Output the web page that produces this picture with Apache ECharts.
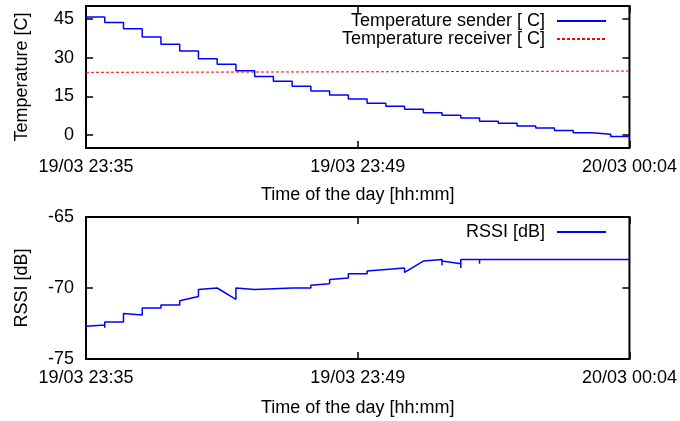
<!DOCTYPE html>
<html><head><meta charset="utf-8">
<script src="https://cdn.jsdelivr.net/npm/echarts@6/dist/echarts.min.js"></script>
<style>html,body{margin:0;padding:0;background:#fff}#c{width:680px;height:421px}</style>
</head><body><div id="c"></div>
<script>
// ---- data ----
const startClock = '23:35';
const endClock = '00:04';
const xTickClocks = ['23:35', '23:49:30', '00:04'];
const xTickLabels = ['19/03 23:35', '19/03 23:49', '20/03 00:04'];

const senderTimes = ['23:35','23:36','23:37','23:38','23:39','23:40','23:41','23:42','23:43','23:44',
  '23:45','23:46','23:47','23:48','23:49','23:50','23:51','23:52','23:53','23:54',
  '23:55','23:56','23:57','23:58','23:59','00:00','00:01','00:02','00:03','00:04'];
const senderTemp = [45.7,43.6,41.2,38.0,35.2,32.6,29.6,27.4,24.9,22.7,
  20.9,18.9,17.1,15.5,14.0,12.3,11.2,10.0,8.7,7.7,
  6.6,5.4,4.6,3.5,2.7,1.8,0.9,0.3,-0.5,-0.5];

const receiverTimes = ['23:35','23:49','00:04'];
const receiverTemp = [24.3,24.5,24.8];

const rssiTimes = ['23:35','23:36','23:36','23:36','23:37','23:37','23:38','23:38','23:39','23:39',
  '23:40','23:40','23:41','23:41','23:42','23:43','23:43','23:44','23:44','23:46',
  '23:46','23:46','23:47','23:47','23:48','23:48','23:49','23:49','23:50','23:50',
  '23:51','23:52','23:52','23:53','23:54','23:54','23:54','23:55','23:55','23:55',
  '23:56','23:56','23:56','23:57','23:57','23:57','00:04'];
const rssiValues = [-72.7,-72.6,-72.8,-72.4,-72.4,-71.8,-71.9,-71.4,-71.4,-71.2,
  -71.2,-70.9,-70.6,-70.1,-70.0,-70.8,-70.0,-70.1,-70.0,-70.0,
  -70.1,-70.0,-70.0,-69.8,-69.7,-69.4,-69.3,-69.0,-69.0,-68.8,
  -68.7,-68.6,-68.9,-68.1,-68.0,-68.4,-68.1,-68.3,-68.6,-68.0,
  -68.0,-68.3,-68.0,-68.0,-68.1,-68.0,-68.0];

const tempTicks = [0, 15, 30, 45];
const rssiTicks = [-75, -70, -65];

// ---- helpers ----
function toMin(s) {
  const p = s.split(':').map(Number);
  let m = p[0] * 60 + p[1] + (p[2] || 0) / 60;
  if (p[0] < 12) m += 1440;
  return m;
}
const t0 = toMin(startClock);
const rel = s => toMin(s) - t0;
const xMin = 0, xMax = rel(endClock);
const xTickVals = xTickClocks.map(rel);
const pairs = (ts, vs) => ts.map((t, i) => [rel(t), vs[i]]);

const FONT = 'Liberation Sans';
const FS = 18;
const tickStyle = { show: true, inside: true, length: 7, lineStyle: { color: '#000', width: 1.5 } };
const noLine = { show: false, onZero: false };

function xAxes(grid, gap) {
  return [
    { type: 'value', gridIndex: grid, min: xMin, max: xMax, position: 'bottom',
      axisLine: noLine, splitLine: { show: false },
      axisTick: Object.assign({ customValues: xTickVals }, tickStyle),
      axisLabel: { customValues: xTickVals, margin: 10, color: '#000', fontFamily: FONT, fontSize: FS,
        formatter: (v) => { const i = xTickVals.findIndex(t => Math.abs(t - v) < 1e-6); return i >= 0 ? xTickLabels[i] : ''; } },
      name: 'Time of the day [hh:mm]', nameLocation: 'middle', nameGap: gap,
      nameTextStyle: { color: '#000', fontFamily: FONT, fontSize: FS } },
    { type: 'value', gridIndex: grid, min: xMin, max: xMax, position: 'top',
      axisLine: noLine, splitLine: { show: false },
      axisTick: Object.assign({ customValues: xTickVals }, tickStyle),
      axisLabel: { show: false } }
  ];
}
function yAxes(grid, min, max, ticks, name, gap) {
  return [
    { type: 'value', gridIndex: grid, min: min, max: max, position: 'left',
      axisLine: noLine, splitLine: { show: false },
      axisTick: Object.assign({ customValues: ticks }, tickStyle),
      axisLabel: { customValues: ticks, margin: 12, color: '#000', fontFamily: FONT, fontSize: FS },
      name: name, nameLocation: 'middle', nameGap: gap, nameRotate: 90,
      nameTextStyle: { color: '#000', fontFamily: FONT, fontSize: FS } },
    { type: 'value', gridIndex: grid, min: min, max: max, position: 'right',
      axisLine: noLine, splitLine: { show: false },
      axisTick: Object.assign({ customValues: ticks }, tickStyle),
      axisLabel: { show: false } }
  ];
}

const legendText = { color: '#000', fontFamily: FONT, fontSize: FS, lineHeight: 18, padding: [0, 7, 0, 0] };

const chart = echarts.init(document.getElementById('c'), null, { renderer: 'canvas' });
chart.setOption({
  animation: false,
  backgroundColor: '#fff',
  textStyle: { fontFamily: FONT },
  grid: [
    { left: 86, top: 6, width: 544, height: 142, show: true, borderColor: '#000', borderWidth: 2, backgroundColor: 'transparent' },
    { left: 86, top: 217, width: 544, height: 142, show: true, borderColor: '#000', borderWidth: 2, backgroundColor: 'transparent' }
  ],
  xAxis: xAxes(0, 38).concat(xAxes(1, 40)),
  yAxis: yAxes(0, -5, 50, tempTicks, 'Temperature [C]', 55).concat(yAxes(1, -75, -65, rssiTicks, 'RSSI [dB]', 55)),
  legend: [
    { data: ['Temperature sender [ C]', 'Temperature receiver [ C]'], right: 73, top: 12, padding: 0, orient: 'vertical', align: 'right',
      itemWidth: 49, itemHeight: 18, itemGap: 0, itemStyle: { opacity: 0 }, textStyle: legendText },
    { data: ['RSSI [dB]'], right: 73, top: 223, padding: 0, orient: 'vertical', align: 'right',
      itemWidth: 49, itemHeight: 18, itemGap: 0, itemStyle: { opacity: 0 }, textStyle: legendText }
  ],
  series: [
    { name: 'Temperature sender [ C]', type: 'line', xAxisIndex: 0, yAxisIndex: 0, step: 'end',
      symbol: 'none', data: pairs(senderTimes, senderTemp), color: '#0000ff', lineStyle: { color: '#0000ff', width: 1.5 } },
    { name: 'Temperature receiver [ C]', type: 'line', xAxisIndex: 0, yAxisIndex: 0,
      symbol: 'none', data: pairs(receiverTimes, receiverTemp), color: '#ff0000', lineStyle: { color: '#ff0000', width: 1, type: [3, 2] } },
    { name: 'RSSI [dB]', type: 'line', xAxisIndex: 2, yAxisIndex: 2,
      symbol: 'none', data: pairs(rssiTimes, rssiValues), color: '#0000ff', lineStyle: { color: '#0000ff', width: 1.5 } }
  ]
});
</script></body></html>
